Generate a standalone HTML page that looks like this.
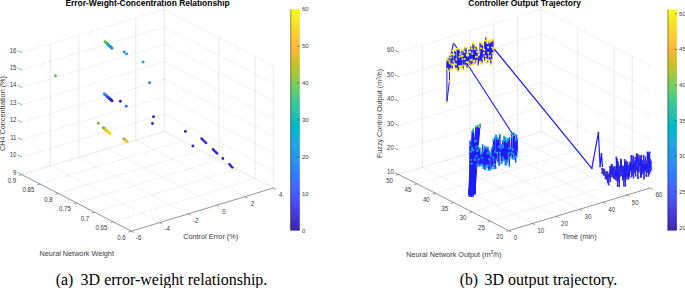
<!DOCTYPE html>
<html><head><meta charset="utf-8"><style>
html,body{margin:0;padding:0;background:#fff;width:685px;height:288px;overflow:hidden}
svg{display:block;font-family:"Liberation Sans",sans-serif}
</style></head><body>
<svg width="685" height="288" viewBox="0 0 685 288">
<rect width="685" height="288" fill="#fff"/>
<defs><linearGradient id="pg" x1="0" y1="0" x2="0" y2="1"><stop offset="0" stop-color="#f9fb15"/><stop offset="0.02" stop-color="#f7f51b"/><stop offset="0.03" stop-color="#f6ef20"/><stop offset="0.05" stop-color="#f5e924"/><stop offset="0.06" stop-color="#f5e327"/><stop offset="0.08" stop-color="#f7dc2a"/><stop offset="0.1" stop-color="#fad62d"/><stop offset="0.11" stop-color="#fccf30"/><stop offset="0.13" stop-color="#fec934"/><stop offset="0.14" stop-color="#fec338"/><stop offset="0.16" stop-color="#febe3c"/><stop offset="0.17" stop-color="#f8ba3d"/><stop offset="0.19" stop-color="#f0ba36"/><stop offset="0.21" stop-color="#e6bb2d"/><stop offset="0.22" stop-color="#dcbd29"/><stop offset="0.24" stop-color="#d1bf27"/><stop offset="0.25" stop-color="#c5c22a"/><stop offset="0.27" stop-color="#b9c431"/><stop offset="0.29" stop-color="#abc739"/><stop offset="0.3" stop-color="#9dc943"/><stop offset="0.32" stop-color="#8fcb4e"/><stop offset="0.33" stop-color="#81cc59"/><stop offset="0.35" stop-color="#72cd64"/><stop offset="0.37" stop-color="#64cd6f"/><stop offset="0.38" stop-color="#57cc7a"/><stop offset="0.4" stop-color="#4acb84"/><stop offset="0.41" stop-color="#3fca8e"/><stop offset="0.43" stop-color="#37c897"/><stop offset="0.44" stop-color="#31c69f"/><stop offset="0.46" stop-color="#2cc4a7"/><stop offset="0.48" stop-color="#24c1ae"/><stop offset="0.49" stop-color="#19bfb6"/><stop offset="0.51" stop-color="#0bbdbd"/><stop offset="0.52" stop-color="#02bac3"/><stop offset="0.54" stop-color="#01b8ca"/><stop offset="0.56" stop-color="#08b5d0"/><stop offset="0.57" stop-color="#12b1d6"/><stop offset="0.59" stop-color="#18addb"/><stop offset="0.6" stop-color="#1ca9df"/><stop offset="0.62" stop-color="#20a5e3"/><stop offset="0.63" stop-color="#23a0e5"/><stop offset="0.65" stop-color="#259be8"/><stop offset="0.67" stop-color="#2797eb"/><stop offset="0.68" stop-color="#2b91ef"/><stop offset="0.7" stop-color="#2d8cf3"/><stop offset="0.71" stop-color="#2e87f7"/><stop offset="0.73" stop-color="#2f81fa"/><stop offset="0.75" stop-color="#327cfc"/><stop offset="0.76" stop-color="#3875fe"/><stop offset="0.78" stop-color="#3e6fff"/><stop offset="0.79" stop-color="#4269fe"/><stop offset="0.81" stop-color="#4563fd"/><stop offset="0.83" stop-color="#465efb"/><stop offset="0.84" stop-color="#4758f8"/><stop offset="0.86" stop-color="#4852f4"/><stop offset="0.87" stop-color="#484df0"/><stop offset="0.89" stop-color="#4747eb"/><stop offset="0.9" stop-color="#4741e5"/><stop offset="0.92" stop-color="#463cde"/><stop offset="0.94" stop-color="#4537d5"/><stop offset="0.95" stop-color="#4332cb"/><stop offset="0.97" stop-color="#422ec0"/><stop offset="0.98" stop-color="#402ab4"/><stop offset="1" stop-color="#3e26a8"/></linearGradient></defs>
<line x1="21.8" y1="174.6" x2="131.3" y2="231.2" stroke="#dcdcdc" stroke-width="0.6" stroke-dasharray="2 1"/>
<line x1="50.3" y1="165.98" x2="159.7" y2="222.56" stroke="#dcdcdc" stroke-width="0.6" stroke-dasharray="2 1"/>
<line x1="78.8" y1="157.36" x2="188.1" y2="213.92" stroke="#dcdcdc" stroke-width="0.6" stroke-dasharray="2 1"/>
<line x1="107.3" y1="148.74" x2="216.5" y2="205.28" stroke="#dcdcdc" stroke-width="0.6" stroke-dasharray="2 1"/>
<line x1="135.8" y1="140.12" x2="244.9" y2="196.64" stroke="#dcdcdc" stroke-width="0.6" stroke-dasharray="2 1"/>
<line x1="164.3" y1="131.5" x2="273.3" y2="188" stroke="#dcdcdc" stroke-width="0.6" stroke-dasharray="2 1"/>
<line x1="21.8" y1="174.6" x2="164.3" y2="131.5" stroke="#dcdcdc" stroke-width="0.6" stroke-dasharray="2 1"/>
<line x1="40.05" y1="184.03" x2="182.47" y2="140.92" stroke="#dcdcdc" stroke-width="0.6" stroke-dasharray="2 1"/>
<line x1="58.3" y1="193.47" x2="200.63" y2="150.33" stroke="#dcdcdc" stroke-width="0.6" stroke-dasharray="2 1"/>
<line x1="76.55" y1="202.9" x2="218.8" y2="159.75" stroke="#dcdcdc" stroke-width="0.6" stroke-dasharray="2 1"/>
<line x1="94.8" y1="212.33" x2="236.97" y2="169.17" stroke="#dcdcdc" stroke-width="0.6" stroke-dasharray="2 1"/>
<line x1="113.05" y1="221.77" x2="255.13" y2="178.58" stroke="#dcdcdc" stroke-width="0.6" stroke-dasharray="2 1"/>
<line x1="131.3" y1="231.2" x2="273.3" y2="188" stroke="#dcdcdc" stroke-width="0.6" stroke-dasharray="2 1"/>
<line x1="50.3" y1="165.98" x2="50.3" y2="43.98" stroke="#e4e4e4" stroke-width="0.8"/>
<line x1="78.8" y1="157.36" x2="78.8" y2="35.36" stroke="#e4e4e4" stroke-width="0.8"/>
<line x1="135.8" y1="140.12" x2="135.8" y2="18.12" stroke="#e4e4e4" stroke-width="0.8"/>
<line x1="164.3" y1="131.5" x2="164.3" y2="9.5" stroke="#e4e4e4" stroke-width="0.8"/>
<line x1="21.8" y1="174.6" x2="164.3" y2="131.5" stroke="#dcdcdc" stroke-width="0.6" stroke-dasharray="2 1"/>
<line x1="21.8" y1="157.17" x2="164.3" y2="114.07" stroke="#dcdcdc" stroke-width="0.6" stroke-dasharray="2 1"/>
<line x1="21.8" y1="139.74" x2="164.3" y2="96.64" stroke="#dcdcdc" stroke-width="0.6" stroke-dasharray="2 1"/>
<line x1="21.8" y1="122.31" x2="164.3" y2="79.21" stroke="#dcdcdc" stroke-width="0.6" stroke-dasharray="2 1"/>
<line x1="21.8" y1="104.89" x2="164.3" y2="61.79" stroke="#dcdcdc" stroke-width="0.6" stroke-dasharray="2 1"/>
<line x1="21.8" y1="87.46" x2="164.3" y2="44.36" stroke="#dcdcdc" stroke-width="0.6" stroke-dasharray="2 1"/>
<line x1="21.8" y1="70.03" x2="164.3" y2="26.93" stroke="#dcdcdc" stroke-width="0.6" stroke-dasharray="2 1"/>
<line x1="21.8" y1="52.6" x2="164.3" y2="9.5" stroke="#dcdcdc" stroke-width="0.6" stroke-dasharray="2 1"/>
<line x1="218.8" y1="159.75" x2="218.8" y2="37.75" stroke="#e4e4e4" stroke-width="0.8"/>
<line x1="255.13" y1="178.58" x2="255.13" y2="56.58" stroke="#e4e4e4" stroke-width="0.8"/>
<line x1="273.3" y1="188" x2="273.3" y2="66" stroke="#e4e4e4" stroke-width="0.8"/>
<line x1="164.3" y1="131.5" x2="273.3" y2="188" stroke="#dcdcdc" stroke-width="0.6" stroke-dasharray="2 1"/>
<line x1="164.3" y1="114.07" x2="273.3" y2="170.57" stroke="#dcdcdc" stroke-width="0.6" stroke-dasharray="2 1"/>
<line x1="164.3" y1="96.64" x2="273.3" y2="153.14" stroke="#dcdcdc" stroke-width="0.6" stroke-dasharray="2 1"/>
<line x1="164.3" y1="79.21" x2="273.3" y2="135.71" stroke="#dcdcdc" stroke-width="0.6" stroke-dasharray="2 1"/>
<line x1="164.3" y1="61.79" x2="273.3" y2="118.29" stroke="#dcdcdc" stroke-width="0.6" stroke-dasharray="2 1"/>
<line x1="164.3" y1="44.36" x2="273.3" y2="100.86" stroke="#dcdcdc" stroke-width="0.6" stroke-dasharray="2 1"/>
<line x1="164.3" y1="26.93" x2="273.3" y2="83.43" stroke="#dcdcdc" stroke-width="0.6" stroke-dasharray="2 1"/>
<line x1="164.3" y1="9.5" x2="273.3" y2="66" stroke="#dcdcdc" stroke-width="0.6" stroke-dasharray="2 1"/>
<circle cx="104.9" cy="41.7" r="1.45" fill="#6cc04a"/>
<circle cx="105.54" cy="42.29" r="1.45" fill="#6cc04a"/>
<circle cx="106.17" cy="42.88" r="1.45" fill="#6cc04a"/>
<circle cx="106.81" cy="43.47" r="1.45" fill="#3fb98a"/>
<circle cx="107.45" cy="44.06" r="1.45" fill="#3fb98a"/>
<circle cx="108.08" cy="44.65" r="1.45" fill="#20a8b8"/>
<circle cx="108.72" cy="45.25" r="1.45" fill="#20a8b8"/>
<circle cx="109.35" cy="45.84" r="1.45" fill="#1c98d8"/>
<circle cx="109.99" cy="46.43" r="1.45" fill="#1c98d8"/>
<circle cx="110.63" cy="47.02" r="1.45" fill="#1e88e8"/>
<circle cx="111.26" cy="47.61" r="1.45" fill="#1e88e8"/>
<circle cx="111.9" cy="48.2" r="1.45" fill="#1e88e8"/>
<circle cx="124.3" cy="52" r="1.45" fill="#1aa0e0"/>
<circle cx="126.6" cy="53.9" r="1.45" fill="#1a98e0"/>
<circle cx="143.1" cy="62.1" r="1.45" fill="#14a0d8"/>
<circle cx="55.4" cy="75.8" r="1.45" fill="#6cbf40"/>
<circle cx="149.6" cy="82.8" r="1.45" fill="#1a88ea"/>
<circle cx="104.3" cy="94" r="1.45" fill="#2a8cf0"/>
<circle cx="104.9" cy="94.53" r="1.45" fill="#2a8cf0"/>
<circle cx="105.5" cy="95.06" r="1.45" fill="#2a8cf0"/>
<circle cx="106.1" cy="95.59" r="1.45" fill="#3070f2"/>
<circle cx="106.7" cy="96.12" r="1.45" fill="#3070f2"/>
<circle cx="107.3" cy="96.65" r="1.45" fill="#3070f2"/>
<circle cx="107.9" cy="97.18" r="1.45" fill="#3050f0"/>
<circle cx="108.5" cy="97.72" r="1.45" fill="#3050f0"/>
<circle cx="109.1" cy="98.25" r="1.45" fill="#3038e0"/>
<circle cx="109.7" cy="98.78" r="1.45" fill="#3038e0"/>
<circle cx="110.3" cy="99.31" r="1.45" fill="#3038e0"/>
<circle cx="110.9" cy="99.84" r="1.45" fill="#2c20a8"/>
<circle cx="111.5" cy="100.37" r="1.45" fill="#2c20a8"/>
<circle cx="112.1" cy="100.9" r="1.45" fill="#2c20a8"/>
<circle cx="120.4" cy="101.2" r="1.45" fill="#3422b0"/>
<circle cx="126.25" cy="106.3" r="1.45" fill="#2a6af5"/>
<circle cx="153.5" cy="116.8" r="1.45" fill="#3b22c2"/>
<circle cx="152.5" cy="123.5" r="1.45" fill="#3b22c2"/>
<circle cx="98.4" cy="123.3" r="1.45" fill="#6cc040"/>
<circle cx="103.2" cy="127.7" r="1.45" fill="#78c040"/>
<circle cx="103.82" cy="128.25" r="1.45" fill="#78c040"/>
<circle cx="104.44" cy="128.79" r="1.45" fill="#78c040"/>
<circle cx="105.05" cy="129.34" r="1.45" fill="#e8b030"/>
<circle cx="105.67" cy="129.88" r="1.45" fill="#e8b030"/>
<circle cx="106.29" cy="130.43" r="1.45" fill="#f0c828"/>
<circle cx="106.91" cy="130.97" r="1.45" fill="#f0c828"/>
<circle cx="107.53" cy="131.52" r="1.45" fill="#f0d020"/>
<circle cx="108.15" cy="132.06" r="1.45" fill="#f0d020"/>
<circle cx="108.76" cy="132.61" r="1.45" fill="#f2d818"/>
<circle cx="109.38" cy="133.15" r="1.45" fill="#f2d818"/>
<circle cx="110" cy="133.7" r="1.45" fill="#f2d818"/>
<circle cx="123.9" cy="138.9" r="1.45" fill="#78c040"/>
<circle cx="124.52" cy="139.48" r="1.45" fill="#78c040"/>
<circle cx="125.14" cy="140.06" r="1.45" fill="#f0b030"/>
<circle cx="125.76" cy="140.64" r="1.45" fill="#f0b030"/>
<circle cx="126.38" cy="141.22" r="1.45" fill="#f5c030"/>
<circle cx="127" cy="141.8" r="1.45" fill="#f5c030"/>
<circle cx="185.4" cy="131.4" r="1.45" fill="#3b22c2"/>
<circle cx="192.9" cy="146" r="1.45" fill="#3b22c2"/>
<circle cx="201.7" cy="138.7" r="1.35" fill="#3b22c2"/>
<circle cx="203.13" cy="140.1" r="1.35" fill="#3b22c2"/>
<circle cx="204.57" cy="141.5" r="1.35" fill="#3b22c2"/>
<circle cx="206" cy="142.9" r="1.35" fill="#3b22c2"/>
<circle cx="213" cy="149.4" r="1.35" fill="#3b22c2"/>
<circle cx="214.33" cy="150.7" r="1.35" fill="#3b22c2"/>
<circle cx="215.67" cy="152" r="1.35" fill="#3b22c2"/>
<circle cx="217" cy="153.3" r="1.35" fill="#3b22c2"/>
<circle cx="222.8" cy="158.5" r="1.45" fill="#3b22c2"/>
<circle cx="229.5" cy="164.3" r="1.35" fill="#3b22c2"/>
<circle cx="230.85" cy="165.8" r="1.35" fill="#3b22c2"/>
<circle cx="232.2" cy="167.3" r="1.35" fill="#3b22c2"/>
<line x1="21.8" y1="174.6" x2="131.3" y2="231.2" stroke="#5c5c5c" stroke-width="0.6"/>
<line x1="131.3" y1="231.2" x2="273.3" y2="188" stroke="#5c5c5c" stroke-width="0.6"/>
<line x1="21.8" y1="174.6" x2="18.93" y2="175.47" stroke="#5c5c5c" stroke-width="0.6"/>
<line x1="40.05" y1="184.03" x2="37.18" y2="184.9" stroke="#5c5c5c" stroke-width="0.6"/>
<line x1="58.3" y1="193.47" x2="55.43" y2="194.34" stroke="#5c5c5c" stroke-width="0.6"/>
<line x1="76.55" y1="202.9" x2="73.68" y2="203.77" stroke="#5c5c5c" stroke-width="0.6"/>
<line x1="94.8" y1="212.33" x2="91.93" y2="213.2" stroke="#5c5c5c" stroke-width="0.6"/>
<line x1="113.05" y1="221.77" x2="110.18" y2="222.64" stroke="#5c5c5c" stroke-width="0.6"/>
<line x1="131.3" y1="231.2" x2="128.43" y2="232.07" stroke="#5c5c5c" stroke-width="0.6"/>
<line x1="131.3" y1="231.2" x2="133.97" y2="232.58" stroke="#5c5c5c" stroke-width="0.6"/>
<line x1="159.7" y1="222.56" x2="162.37" y2="223.94" stroke="#5c5c5c" stroke-width="0.6"/>
<line x1="188.1" y1="213.92" x2="190.77" y2="215.3" stroke="#5c5c5c" stroke-width="0.6"/>
<line x1="216.5" y1="205.28" x2="219.17" y2="206.66" stroke="#5c5c5c" stroke-width="0.6"/>
<line x1="244.9" y1="196.64" x2="247.57" y2="198.02" stroke="#5c5c5c" stroke-width="0.6"/>
<line x1="273.3" y1="188" x2="275.97" y2="189.38" stroke="#5c5c5c" stroke-width="0.6"/>
<line x1="21.8" y1="174.6" x2="17.98" y2="172.63" stroke="#5c5c5c" stroke-width="0.6"/>
<line x1="21.8" y1="157.17" x2="17.98" y2="155.2" stroke="#5c5c5c" stroke-width="0.6"/>
<line x1="21.8" y1="139.74" x2="17.98" y2="137.77" stroke="#5c5c5c" stroke-width="0.6"/>
<line x1="21.8" y1="122.31" x2="17.98" y2="120.34" stroke="#5c5c5c" stroke-width="0.6"/>
<line x1="21.8" y1="104.89" x2="17.98" y2="102.91" stroke="#5c5c5c" stroke-width="0.6"/>
<line x1="21.8" y1="87.46" x2="17.98" y2="85.48" stroke="#5c5c5c" stroke-width="0.6"/>
<line x1="21.8" y1="70.03" x2="17.98" y2="68.05" stroke="#5c5c5c" stroke-width="0.6"/>
<line x1="21.8" y1="52.6" x2="17.98" y2="50.63" stroke="#5c5c5c" stroke-width="0.6"/>
<text transform="translate(16.5 174.5) scale(0.93 1)" font-size="6.6" text-anchor="end" fill="#3a3a3a">9</text>
<text transform="translate(16.5 157.07) scale(0.93 1)" font-size="6.6" text-anchor="end" fill="#3a3a3a">10</text>
<text transform="translate(16.5 139.64) scale(0.93 1)" font-size="6.6" text-anchor="end" fill="#3a3a3a">11</text>
<text transform="translate(16.5 122.21) scale(0.93 1)" font-size="6.6" text-anchor="end" fill="#3a3a3a">12</text>
<text transform="translate(16.5 104.79) scale(0.93 1)" font-size="6.6" text-anchor="end" fill="#3a3a3a">13</text>
<text transform="translate(16.5 87.36) scale(0.93 1)" font-size="6.6" text-anchor="end" fill="#3a3a3a">14</text>
<text transform="translate(16.5 69.93) scale(0.93 1)" font-size="6.6" text-anchor="end" fill="#3a3a3a">15</text>
<text transform="translate(16.5 52.5) scale(0.93 1)" font-size="6.6" text-anchor="end" fill="#3a3a3a">16</text>
<text transform="translate(16.2 183) scale(0.93 1)" font-size="6.6" text-anchor="end" fill="#3a3a3a">0.9</text>
<text transform="translate(34.45 192.43) scale(0.93 1)" font-size="6.6" text-anchor="end" fill="#3a3a3a">0.85</text>
<text transform="translate(52.7 201.87) scale(0.93 1)" font-size="6.6" text-anchor="end" fill="#3a3a3a">0.8</text>
<text transform="translate(70.95 211.3) scale(0.93 1)" font-size="6.6" text-anchor="end" fill="#3a3a3a">0.75</text>
<text transform="translate(89.2 220.73) scale(0.93 1)" font-size="6.6" text-anchor="end" fill="#3a3a3a">0.7</text>
<text transform="translate(107.45 230.17) scale(0.93 1)" font-size="6.6" text-anchor="end" fill="#3a3a3a">0.65</text>
<text transform="translate(125.7 239.6) scale(0.93 1)" font-size="6.6" text-anchor="end" fill="#3a3a3a">0.6</text>
<text transform="translate(138.8 240.1) scale(0.93 1)" font-size="6.6" text-anchor="middle" fill="#3a3a3a">-6</text>
<text transform="translate(167.2 231.46) scale(0.93 1)" font-size="6.6" text-anchor="middle" fill="#3a3a3a">-4</text>
<text transform="translate(195.6 222.82) scale(0.93 1)" font-size="6.6" text-anchor="middle" fill="#3a3a3a">-2</text>
<text transform="translate(224 214.18) scale(0.93 1)" font-size="6.6" text-anchor="middle" fill="#3a3a3a">0</text>
<text transform="translate(252.4 205.54) scale(0.93 1)" font-size="6.6" text-anchor="middle" fill="#3a3a3a">2</text>
<text transform="translate(280.8 196.9) scale(0.93 1)" font-size="6.6" text-anchor="middle" fill="#3a3a3a">4</text>
<text x="147.6" y="6.1" font-size="8.45" text-anchor="middle" fill="#000" font-weight="bold">Error-Weight-Concentration Relationship</text>
<text x="76.7" y="256.4" font-size="7.25" text-anchor="middle" fill="#3a3a3a">Neural Network Weight</text>
<text x="210.7" y="239.1" font-size="7.25" text-anchor="middle" fill="#3a3a3a">Control Error (%)</text>
<text x="5" y="113.5" font-size="7.25" text-anchor="middle" fill="#3a3a3a" transform="rotate(-90 5.0 113.5)">CH4 Concentration (%)</text>
<line x1="398.6" y1="174.5" x2="508.75" y2="230.6" stroke="#dcdcdc" stroke-width="0.6" stroke-dasharray="2 1"/>
<line x1="422.38" y1="167.37" x2="532.34" y2="223.5" stroke="#dcdcdc" stroke-width="0.6" stroke-dasharray="2 1"/>
<line x1="446.17" y1="160.23" x2="555.93" y2="216.4" stroke="#dcdcdc" stroke-width="0.6" stroke-dasharray="2 1"/>
<line x1="469.95" y1="153.1" x2="579.52" y2="209.3" stroke="#dcdcdc" stroke-width="0.6" stroke-dasharray="2 1"/>
<line x1="493.73" y1="145.97" x2="603.12" y2="202.2" stroke="#dcdcdc" stroke-width="0.6" stroke-dasharray="2 1"/>
<line x1="517.52" y1="138.83" x2="626.71" y2="195.1" stroke="#dcdcdc" stroke-width="0.6" stroke-dasharray="2 1"/>
<line x1="541.3" y1="131.7" x2="650.3" y2="188" stroke="#dcdcdc" stroke-width="0.6" stroke-dasharray="2 1"/>
<line x1="398.6" y1="174.5" x2="541.3" y2="131.7" stroke="#dcdcdc" stroke-width="0.6" stroke-dasharray="2 1"/>
<line x1="416.96" y1="183.85" x2="559.47" y2="141.08" stroke="#dcdcdc" stroke-width="0.6" stroke-dasharray="2 1"/>
<line x1="435.32" y1="193.2" x2="577.63" y2="150.47" stroke="#dcdcdc" stroke-width="0.6" stroke-dasharray="2 1"/>
<line x1="453.68" y1="202.55" x2="595.8" y2="159.85" stroke="#dcdcdc" stroke-width="0.6" stroke-dasharray="2 1"/>
<line x1="472.03" y1="211.9" x2="613.97" y2="169.23" stroke="#dcdcdc" stroke-width="0.6" stroke-dasharray="2 1"/>
<line x1="490.39" y1="221.25" x2="632.13" y2="178.62" stroke="#dcdcdc" stroke-width="0.6" stroke-dasharray="2 1"/>
<line x1="508.75" y1="230.6" x2="650.3" y2="188" stroke="#dcdcdc" stroke-width="0.6" stroke-dasharray="2 1"/>
<line x1="422.38" y1="167.37" x2="422.38" y2="45.17" stroke="#e4e4e4" stroke-width="0.8"/>
<line x1="469.95" y1="153.1" x2="469.95" y2="30.9" stroke="#e4e4e4" stroke-width="0.8"/>
<line x1="493.73" y1="145.97" x2="493.73" y2="23.77" stroke="#e4e4e4" stroke-width="0.8"/>
<line x1="517.52" y1="138.83" x2="517.52" y2="16.63" stroke="#e4e4e4" stroke-width="0.8"/>
<line x1="541.3" y1="131.7" x2="541.3" y2="9.5" stroke="#e4e4e4" stroke-width="0.8"/>
<line x1="398.6" y1="174.5" x2="541.3" y2="131.7" stroke="#dcdcdc" stroke-width="0.6" stroke-dasharray="2 1"/>
<line x1="398.6" y1="150.06" x2="541.3" y2="107.26" stroke="#dcdcdc" stroke-width="0.6" stroke-dasharray="2 1"/>
<line x1="398.6" y1="125.62" x2="541.3" y2="82.82" stroke="#dcdcdc" stroke-width="0.6" stroke-dasharray="2 1"/>
<line x1="398.6" y1="101.18" x2="541.3" y2="58.38" stroke="#dcdcdc" stroke-width="0.6" stroke-dasharray="2 1"/>
<line x1="398.6" y1="76.74" x2="541.3" y2="33.94" stroke="#dcdcdc" stroke-width="0.6" stroke-dasharray="2 1"/>
<line x1="398.6" y1="52.3" x2="541.3" y2="9.5" stroke="#dcdcdc" stroke-width="0.6" stroke-dasharray="2 1"/>
<line x1="577.63" y1="150.47" x2="577.63" y2="28.27" stroke="#e4e4e4" stroke-width="0.8"/>
<line x1="613.97" y1="169.23" x2="613.97" y2="47.03" stroke="#e4e4e4" stroke-width="0.8"/>
<line x1="632.13" y1="178.62" x2="632.13" y2="56.42" stroke="#e4e4e4" stroke-width="0.8"/>
<line x1="541.3" y1="131.7" x2="650.3" y2="188" stroke="#dcdcdc" stroke-width="0.6" stroke-dasharray="2 1"/>
<line x1="541.3" y1="107.26" x2="650.3" y2="163.56" stroke="#dcdcdc" stroke-width="0.6" stroke-dasharray="2 1"/>
<line x1="541.3" y1="82.82" x2="650.3" y2="139.12" stroke="#dcdcdc" stroke-width="0.6" stroke-dasharray="2 1"/>
<line x1="541.3" y1="58.38" x2="650.3" y2="114.68" stroke="#dcdcdc" stroke-width="0.6" stroke-dasharray="2 1"/>
<line x1="541.3" y1="33.94" x2="650.3" y2="90.24" stroke="#dcdcdc" stroke-width="0.6" stroke-dasharray="2 1"/>
<line x1="541.3" y1="9.5" x2="650.3" y2="65.8" stroke="#dcdcdc" stroke-width="0.6" stroke-dasharray="2 1"/>
<polyline fill="none" stroke="#1c1cfa" stroke-width="1.1" stroke-linejoin="round" points="450.3,58 453.5,42.7 514.5,137"/>
<polyline fill="none" stroke="#1c1cfa" stroke-width="1.2" stroke-linejoin="round" points="491,45 591.8,168.3 598.4,132.8 600.1,166.4 601.5,153.7 602.5,167"/>
<polyline fill="none" stroke="#1c1cfa" stroke-width="1.0" stroke-linejoin="round" points="446.9,62.5 446.9,102 449.4,81.25 449.6,65"/>
<polyline fill="none" stroke="#1c1cfa" stroke-width="1.0" stroke-linejoin="round" points="447,59.28 447.38,69 447.63,59.88 448.33,71.27 448.38,57.77 448.75,70.91 449.45,60.91 449.52,62.76 450,55.19 450.54,69.13 450.96,57.57 451.43,64.02 451.99,54.44 452.24,69.26 452.42,50.82 452.87,64.56 453.55,61.29 453.57,65.08 454.35,54.6 454.57,63.28 454.69,50.13 455.42,68.31 455.49,50.7 455.92,64.24 456.32,59.47 456.95,68.78 457.13,48.73 457.82,70.99 457.91,48.83 458.52,71.39 458.71,48.75 459.16,66.29 459.43,57.09 460.08,68.1 460.66,53.63 461.01,66.18 461.42,56.17 461.46,66.56 461.86,50.5 462.46,58.98 462.57,55.94 463.3,69.37 463.64,49.78 464.09,65.66 464.41,51.94 464.66,59 464.93,47.67 465.34,65.88 465.99,47.61 466.55,62.1 466.84,54.94 466.91,68.23 467.64,55.82 468,62.25 468.24,55.27 468.75,63.48 469.24,49.11 469.72,65.86 470.11,52.2 470.45,60.25 470.76,46.14 471.15,65.06 471.73,48.82 471.83,59.6 472.25,53.7 472.8,64.03 473.06,42.94 473.46,61.47 473.74,44.36 474.34,60.85 474.85,49.18 475.24,63.54 475.29,46.29 476.04,56.84 476.27,46.37 476.62,61 477.12,51.89 477.25,56.52 477.66,49.34 478.2,65.54 478.84,53.89 478.76,54.89 479.49,51.73 479.93,62.06 480.15,42.54 480.44,61.5 481.03,48.26 481.44,62.69 481.85,43.7 481.99,63.85 482.65,44.57 482.86,58.44 483.39,49.03 483.88,53.09 484.34,50.08 484.5,61.28 484.85,40.7 485.46,56.02 485.78,37.03 486.26,59.07 486.35,40.66 487.13,60.02 487.2,42.89 487.6,62.94 488.1,47.32 488.23,52.77 489.02,41.27 489.4,60.61 489.66,42.33 490.15,56.18 490.67,40.44 490.85,64.21 491.3,41.25 491.66,59.96 492.2,47.5 492.6,53.32 492.85,40.06 493.21,49.15 493.84,47.9 494,52.06"/>
<circle cx="447" cy="59.28" r="1.1" fill="#fad42e"/>
<circle cx="447.38" cy="69" r="1.1" fill="#f5e526"/>
<circle cx="447.63" cy="59.88" r="1.1" fill="#f7dc2a"/>
<circle cx="448.33" cy="71.27" r="1.1" fill="#f5e924"/>
<circle cx="448.38" cy="57.77" r="1.1" fill="#f5ea24"/>
<circle cx="448.75" cy="70.91" r="1.1" fill="#fdcb33"/>
<circle cx="449.45" cy="60.91" r="1.1" fill="#fec835"/>
<circle cx="449.52" cy="62.76" r="1.1" fill="#f7f51b"/>
<circle cx="450" cy="55.19" r="1.1" fill="#fad52d"/>
<circle cx="450.54" cy="69.13" r="1.1" fill="#fad42e"/>
<circle cx="450.96" cy="57.57" r="1.1" fill="#f9fb15"/>
<circle cx="451.43" cy="64.02" r="1.1" fill="#f5e128"/>
<circle cx="451.99" cy="54.44" r="1.1" fill="#f7f51b"/>
<circle cx="452.24" cy="69.26" r="1.1" fill="#f5e228"/>
<circle cx="452.42" cy="50.82" r="1.1" fill="#f5ea23"/>
<circle cx="452.87" cy="64.56" r="1.1" fill="#fccf30"/>
<circle cx="453.55" cy="61.29" r="1.1" fill="#f5ea23"/>
<circle cx="453.57" cy="65.08" r="1.1" fill="#f8f619"/>
<circle cx="454.35" cy="54.6" r="1.1" fill="#f5e426"/>
<circle cx="454.57" cy="63.28" r="1.1" fill="#f6f020"/>
<circle cx="454.69" cy="50.13" r="1.1" fill="#f5ec22"/>
<circle cx="455.42" cy="68.31" r="1.1" fill="#fdcb33"/>
<circle cx="455.49" cy="50.7" r="1.1" fill="#f6f11f"/>
<circle cx="455.92" cy="64.24" r="1.1" fill="#f5e825"/>
<circle cx="456.32" cy="59.47" r="1.1" fill="#f9d82c"/>
<circle cx="456.95" cy="68.78" r="1.1" fill="#fec934"/>
<circle cx="457.13" cy="48.73" r="1.1" fill="#f8f61a"/>
<circle cx="457.82" cy="70.99" r="1.1" fill="#f5e128"/>
<circle cx="457.91" cy="48.83" r="1.1" fill="#f5ef20"/>
<circle cx="458.52" cy="71.39" r="1.1" fill="#f8f719"/>
<circle cx="458.71" cy="48.75" r="1.1" fill="#f5ee21"/>
<circle cx="459.16" cy="66.29" r="1.1" fill="#f9f916"/>
<circle cx="459.43" cy="57.09" r="1.1" fill="#f7dd2a"/>
<circle cx="460.08" cy="68.1" r="1.1" fill="#f7f31d"/>
<circle cx="460.66" cy="53.63" r="1.1" fill="#f6e028"/>
<circle cx="461.01" cy="66.18" r="1.1" fill="#f9fa16"/>
<circle cx="461.42" cy="56.17" r="1.1" fill="#f8f719"/>
<circle cx="461.46" cy="66.56" r="1.1" fill="#fdcc32"/>
<circle cx="461.86" cy="50.5" r="1.1" fill="#fccf31"/>
<circle cx="462.46" cy="58.98" r="1.1" fill="#fbd32e"/>
<circle cx="462.57" cy="55.94" r="1.1" fill="#f9fb15"/>
<circle cx="463.3" cy="69.37" r="1.1" fill="#f6df29"/>
<circle cx="463.64" cy="49.78" r="1.1" fill="#f5ea24"/>
<circle cx="464.09" cy="65.66" r="1.1" fill="#f9d82c"/>
<circle cx="464.41" cy="51.94" r="1.1" fill="#f5e327"/>
<circle cx="464.66" cy="59" r="1.1" fill="#f7dd2a"/>
<circle cx="464.93" cy="47.67" r="1.1" fill="#f7db2b"/>
<circle cx="465.34" cy="65.88" r="1.1" fill="#f5e825"/>
<circle cx="465.99" cy="47.61" r="1.1" fill="#f5e825"/>
<circle cx="466.55" cy="62.1" r="1.1" fill="#f8f817"/>
<circle cx="466.84" cy="54.94" r="1.1" fill="#f5ed22"/>
<circle cx="466.91" cy="68.23" r="1.1" fill="#f9fa16"/>
<circle cx="467.64" cy="55.82" r="1.1" fill="#f7f61a"/>
<circle cx="468" cy="62.25" r="1.1" fill="#f9fb15"/>
<circle cx="468.24" cy="55.27" r="1.1" fill="#f5ec22"/>
<circle cx="468.75" cy="63.48" r="1.1" fill="#fcd030"/>
<circle cx="469.24" cy="49.11" r="1.1" fill="#f7f61a"/>
<circle cx="469.72" cy="65.86" r="1.1" fill="#f9fb15"/>
<circle cx="470.11" cy="52.2" r="1.1" fill="#f8f817"/>
<circle cx="470.45" cy="60.25" r="1.1" fill="#f5e725"/>
<circle cx="470.76" cy="46.14" r="1.1" fill="#f5ee21"/>
<circle cx="471.15" cy="65.06" r="1.1" fill="#fbd32f"/>
<circle cx="471.73" cy="48.82" r="1.1" fill="#f7f51b"/>
<circle cx="471.83" cy="59.6" r="1.1" fill="#f5e725"/>
<circle cx="472.25" cy="53.7" r="1.1" fill="#f9d72d"/>
<circle cx="472.8" cy="64.03" r="1.1" fill="#fdcb33"/>
<circle cx="473.06" cy="42.94" r="1.1" fill="#f7f61a"/>
<circle cx="473.46" cy="61.47" r="1.1" fill="#f9fb15"/>
<circle cx="473.74" cy="44.36" r="1.1" fill="#fdcc32"/>
<circle cx="474.34" cy="60.85" r="1.1" fill="#f7f31d"/>
<circle cx="474.85" cy="49.18" r="1.1" fill="#f6de29"/>
<circle cx="475.24" cy="63.54" r="1.1" fill="#fccf30"/>
<circle cx="475.29" cy="46.29" r="1.1" fill="#f9d72c"/>
<circle cx="476.04" cy="56.84" r="1.1" fill="#f6f11e"/>
<circle cx="476.27" cy="46.37" r="1.1" fill="#f8f719"/>
<circle cx="476.62" cy="61" r="1.1" fill="#feca34"/>
<circle cx="477.12" cy="51.89" r="1.1" fill="#f5e924"/>
<circle cx="477.25" cy="56.52" r="1.1" fill="#feca33"/>
<circle cx="477.66" cy="49.34" r="1.1" fill="#f5ef20"/>
<circle cx="478.2" cy="65.54" r="1.1" fill="#f8d92b"/>
<circle cx="478.84" cy="53.89" r="1.1" fill="#f8f719"/>
<circle cx="478.76" cy="54.89" r="1.1" fill="#f9fb15"/>
<circle cx="479.49" cy="51.73" r="1.1" fill="#f5e327"/>
<circle cx="479.93" cy="62.06" r="1.1" fill="#f9fb15"/>
<circle cx="480.15" cy="42.54" r="1.1" fill="#f8d82c"/>
<circle cx="480.44" cy="61.5" r="1.1" fill="#fdcb32"/>
<circle cx="481.03" cy="48.26" r="1.1" fill="#f5e825"/>
<circle cx="481.44" cy="62.69" r="1.1" fill="#fec934"/>
<circle cx="481.85" cy="43.7" r="1.1" fill="#fbd22f"/>
<circle cx="481.99" cy="63.85" r="1.1" fill="#f6de29"/>
<circle cx="482.65" cy="44.57" r="1.1" fill="#f5e924"/>
<circle cx="482.86" cy="58.44" r="1.1" fill="#fcd030"/>
<circle cx="483.39" cy="49.03" r="1.1" fill="#feca34"/>
<circle cx="483.88" cy="53.09" r="1.1" fill="#f8f619"/>
<circle cx="484.34" cy="50.08" r="1.1" fill="#f8d82c"/>
<circle cx="484.5" cy="61.28" r="1.1" fill="#f9fb15"/>
<circle cx="484.85" cy="40.7" r="1.1" fill="#f8f818"/>
<circle cx="485.46" cy="56.02" r="1.1" fill="#f7dc2a"/>
<circle cx="485.78" cy="37.03" r="1.1" fill="#f6e128"/>
<circle cx="486.26" cy="59.07" r="1.1" fill="#f5e427"/>
<circle cx="486.35" cy="40.66" r="1.1" fill="#f5eb23"/>
<circle cx="487.13" cy="60.02" r="1.1" fill="#f5e825"/>
<circle cx="487.2" cy="42.89" r="1.1" fill="#f5e626"/>
<circle cx="487.6" cy="62.94" r="1.1" fill="#f5e924"/>
<circle cx="488.1" cy="47.32" r="1.1" fill="#f9fa15"/>
<circle cx="488.23" cy="52.77" r="1.1" fill="#f5e327"/>
<circle cx="489.02" cy="41.27" r="1.1" fill="#f6df29"/>
<circle cx="489.4" cy="60.61" r="1.1" fill="#f5ef20"/>
<circle cx="489.66" cy="42.33" r="1.1" fill="#fad42e"/>
<circle cx="490.15" cy="56.18" r="1.1" fill="#f9d82c"/>
<circle cx="490.67" cy="40.44" r="1.1" fill="#f9fb15"/>
<circle cx="490.85" cy="64.21" r="1.1" fill="#f5e427"/>
<circle cx="491.3" cy="41.25" r="1.1" fill="#f5e626"/>
<circle cx="491.66" cy="59.96" r="1.1" fill="#fec835"/>
<circle cx="492.2" cy="47.5" r="1.1" fill="#f6de29"/>
<circle cx="492.6" cy="53.32" r="1.1" fill="#f5e725"/>
<circle cx="492.85" cy="40.06" r="1.1" fill="#fec834"/>
<circle cx="493.21" cy="49.15" r="1.1" fill="#f5e924"/>
<circle cx="493.84" cy="47.9" r="1.1" fill="#f5ea24"/>
<circle cx="494" cy="52.06" r="1.1" fill="#fdca33"/>
<circle cx="446.9" cy="102" r="1.0" fill="#f8da2b"/>
<circle cx="449.4" cy="81.25" r="1.0" fill="#f8da2b"/>
<circle cx="453.5" cy="42.7" r="1.0" fill="#f8da2b"/>
<polyline fill="none" stroke="#1c1cfa" stroke-width="1.0" stroke-linejoin="round" points="475.19,159.88 475.1,194.66 470.2,151.64 475.1,193.84 470.79,151.73 470.23,192.89 470.09,145.42 470.46,196.25 471.12,159.93 469.47,193.56 476.01,126.49 469.97,189.94 476.11,147.23 475.23,192.85 471.43,163.52 473.33,196.7 472.09,149.03 469.66,189.31 477.51,125.41 468.52,194.1 472.27,131.27 471.87,190.84 474.93,141.43 475.33,188.21 475.91,140.45 474.01,191.3 470.06,141.17 469.77,196.6 479.78,126.72 475.09,191.1 472.81,131.1 469.26,194.74 476.02,140.92 475.12,188.82 473.03,131.67 470.88,196.32 472.19,147.92 469.74,188.7 479.45,126.99 469.63,188.44 473.73,150.15 470.16,193.35 473.19,150.54 468.89,196.24 478.47,126.35 469.41,194.58 474.41,159.7 469.25,191.91 480.22,124.18 471.67,196.99 476.83,151.34 471.92,194.57 472.04,150.09 469.53,191.39 476.72,155.67 472,191.05 477.36,126.13 474.57,191.25 475.42,157.36 473.15,194.84 473.26,129.12 471.9,194.93 472.06,163.64 473.05,193.23"/>
<polyline fill="none" stroke="#1c1cfa" stroke-width="1.0" stroke-linejoin="round" points="477.5,150.4 478.08,165.46 478.13,145.96 478.52,159.3 479.01,148.3 479.57,165.88 479.74,148.32 480.47,164.92 480.95,153.95 481.3,165.11 481.56,152.66 481.9,158.01 482.5,145.41 482.83,165.2 482.96,151.5 483.38,168 483.83,149.45 484.3,168.02 484.62,146.99 485.09,169.31 485.79,147.34 486.18,165.94 486.52,147.91 486.6,167.28 487.37,153.2 487.75,165.41 487.8,147.64 488.49,169.86 488.83,150.47 489.3,159.41 489.42,153.58 489.86,169.79 490.43,154.04 490.77,155.75 490.95,152.61 491.51,168.7 491.8,148.72 492.58,166.12 492.81,146.09 493.21,157.55 493.39,140.17 494.14,168.26 494.6,137.9 494.76,164.76 495.09,151.76 495.59,168.22 496.09,135.33 496.29,159.73 496.76,137.64 497.07,152.84 497.81,138.76 498,162.09 498.39,138.64 499.11,164.98 499.08,146.58 499.86,152.81 499.82,134.86 500.3,156.13 500.8,148.16 501.39,163.44 501.69,145.2 502.12,161.94 502.69,141.13 502.91,157.78 503.19,147.12 503.49,159.77 504.21,137.05 504.69,160.66 504.87,140.25 505.42,164.44 505.52,138.26 506.1,164.75 506.49,141.97 506.8,162.52 507.2,140.15 507.69,160.5 508.12,139.04 508.73,153.52 508.87,148.67 509.38,165.76 509.58,138.22 510.05,157.57 510.56,148.15 511.07,156.43 511.58,134.34 511.58,152.53 511.94,137.34 512.44,158.63 512.84,149.63 513.34,154.14 513.63,133.11 514.14,158.83 514.38,135.09 515.14,157.02 515.5,140.34 515.67,161.77 516.24,135.13 516.65,156.66 517.19,138.56 517.4,151.97"/>
<circle cx="476.01" cy="126.49" r="1.0" fill="#34c79c"/>
<circle cx="477.51" cy="125.41" r="1.0" fill="#53cc7d"/>
<circle cx="479.78" cy="126.72" r="1.0" fill="#3eca8f"/>
<circle cx="479.45" cy="126.99" r="1.0" fill="#5dcc75"/>
<circle cx="478.47" cy="126.35" r="1.0" fill="#4ccb82"/>
<circle cx="480.22" cy="124.18" r="1.0" fill="#68cd6b"/>
<circle cx="477.36" cy="126.13" r="1.0" fill="#5bcc77"/>
<circle cx="473.26" cy="129.12" r="1.0" fill="#67cd6c"/>
<circle cx="475.19" cy="159.88" r="0.9" fill="#22a1e4"/>
<circle cx="470.2" cy="151.64" r="0.9" fill="#1ca9df"/>
<circle cx="470.79" cy="151.73" r="0.9" fill="#1aacdd"/>
<circle cx="470.09" cy="145.42" r="0.9" fill="#17aeda"/>
<circle cx="471.12" cy="159.93" r="0.9" fill="#22a1e4"/>
<circle cx="476.11" cy="147.23" r="0.9" fill="#16aeda"/>
<circle cx="471.43" cy="163.52" r="0.9" fill="#15afd9"/>
<circle cx="472.09" cy="149.03" r="0.9" fill="#1babde"/>
<circle cx="472.27" cy="131.27" r="0.9" fill="#11b1d6"/>
<circle cx="474.93" cy="141.43" r="0.9" fill="#12b1d6"/>
<circle cx="475.91" cy="140.45" r="0.9" fill="#1fa6e2"/>
<circle cx="470.06" cy="141.17" r="0.9" fill="#1fa6e1"/>
<circle cx="472.81" cy="131.1" r="0.9" fill="#259ce7"/>
<circle cx="476.02" cy="140.92" r="0.9" fill="#17aeda"/>
<circle cx="473.03" cy="131.67" r="0.9" fill="#13b1d7"/>
<circle cx="472.19" cy="147.92" r="0.9" fill="#20a5e2"/>
<circle cx="473.73" cy="150.15" r="0.9" fill="#1babde"/>
<circle cx="473.19" cy="150.54" r="0.9" fill="#1aabdd"/>
<circle cx="474.41" cy="159.7" r="0.9" fill="#1aacdd"/>
<circle cx="476.83" cy="151.34" r="0.9" fill="#259ce7"/>
<circle cx="472.04" cy="150.09" r="0.9" fill="#19addc"/>
<circle cx="476.72" cy="155.67" r="0.9" fill="#1da8e0"/>
<circle cx="475.42" cy="157.36" r="0.9" fill="#1caadf"/>
<circle cx="472.06" cy="163.64" r="0.9" fill="#21a3e3"/>
<circle cx="477.5" cy="150.4" r="1.15" fill="#21a4e3"/>
<circle cx="478.08" cy="165.46" r="1.15" fill="#1caadf"/>
<circle cx="478.13" cy="145.96" r="1.15" fill="#20a4e3"/>
<circle cx="478.52" cy="159.3" r="1.15" fill="#1da8e0"/>
<circle cx="479.01" cy="148.3" r="1.15" fill="#2d89f5"/>
<circle cx="479.57" cy="165.88" r="1.15" fill="#2c8ff0"/>
<circle cx="479.74" cy="148.32" r="1.15" fill="#259ce7"/>
<circle cx="480.47" cy="164.92" r="1.15" fill="#20a5e2"/>
<circle cx="480.95" cy="153.95" r="1.15" fill="#2b92ee"/>
<circle cx="481.3" cy="165.11" r="1.15" fill="#1fa6e1"/>
<circle cx="481.56" cy="152.66" r="1.15" fill="#20a4e3"/>
<circle cx="481.9" cy="158.01" r="1.15" fill="#2d89f5"/>
<circle cx="482.5" cy="145.41" r="1.15" fill="#249de6"/>
<circle cx="482.83" cy="165.2" r="1.15" fill="#2a92ee"/>
<circle cx="482.96" cy="151.5" r="1.15" fill="#2d8af4"/>
<circle cx="483.38" cy="168" r="1.15" fill="#2c8ef1"/>
<circle cx="483.83" cy="149.45" r="1.15" fill="#2796eb"/>
<circle cx="484.3" cy="168.02" r="1.15" fill="#2c90f0"/>
<circle cx="484.62" cy="146.99" r="1.15" fill="#2b91ef"/>
<circle cx="485.09" cy="169.31" r="1.15" fill="#2d89f5"/>
<circle cx="485.79" cy="147.34" r="1.15" fill="#259de7"/>
<circle cx="486.18" cy="165.94" r="1.15" fill="#2699e9"/>
<circle cx="486.52" cy="147.91" r="1.15" fill="#21a3e3"/>
<circle cx="486.6" cy="167.28" r="1.15" fill="#22a2e4"/>
<circle cx="487.37" cy="153.2" r="1.15" fill="#2a93ee"/>
<circle cx="487.75" cy="165.41" r="1.15" fill="#16afd9"/>
<circle cx="487.8" cy="147.64" r="1.15" fill="#2d87f7"/>
<circle cx="488.49" cy="169.86" r="1.15" fill="#269ae8"/>
<circle cx="488.83" cy="150.47" r="1.15" fill="#2995ec"/>
<circle cx="489.3" cy="159.41" r="1.15" fill="#269be8"/>
<circle cx="489.42" cy="153.58" r="1.15" fill="#2d8df2"/>
<circle cx="489.86" cy="169.79" r="1.15" fill="#1aacdd"/>
<circle cx="490.43" cy="154.04" r="1.15" fill="#2699e9"/>
<circle cx="490.77" cy="155.75" r="1.15" fill="#2d89f5"/>
<circle cx="490.95" cy="152.61" r="1.15" fill="#21a3e3"/>
<circle cx="491.51" cy="168.7" r="1.15" fill="#2d8cf3"/>
<circle cx="491.8" cy="148.72" r="1.15" fill="#23a0e5"/>
<circle cx="492.58" cy="166.12" r="1.15" fill="#2797ea"/>
<circle cx="492.81" cy="146.09" r="1.15" fill="#22a2e4"/>
<circle cx="493.21" cy="157.55" r="1.15" fill="#13b1d7"/>
<circle cx="493.39" cy="140.17" r="1.15" fill="#1aacdd"/>
<circle cx="494.14" cy="168.26" r="1.15" fill="#259be8"/>
<circle cx="494.6" cy="137.9" r="1.15" fill="#1aabdd"/>
<circle cx="494.76" cy="164.76" r="1.15" fill="#20a5e3"/>
<circle cx="495.09" cy="151.76" r="1.15" fill="#2699e9"/>
<circle cx="495.59" cy="168.22" r="1.15" fill="#2c8ef1"/>
<circle cx="496.09" cy="135.33" r="1.15" fill="#21a3e4"/>
<circle cx="496.29" cy="159.73" r="1.15" fill="#22a1e4"/>
<circle cx="496.76" cy="137.64" r="1.15" fill="#13b1d7"/>
<circle cx="497.07" cy="152.84" r="1.15" fill="#12b1d6"/>
<circle cx="497.81" cy="138.76" r="1.15" fill="#21a3e3"/>
<circle cx="498" cy="162.09" r="1.15" fill="#2798ea"/>
<circle cx="498.39" cy="138.64" r="1.15" fill="#17aeda"/>
<circle cx="499.11" cy="164.98" r="1.15" fill="#2d87f6"/>
<circle cx="499.08" cy="146.58" r="1.15" fill="#2d8df2"/>
<circle cx="499.86" cy="152.81" r="1.15" fill="#22a1e4"/>
<circle cx="499.82" cy="134.86" r="1.15" fill="#21a3e3"/>
<circle cx="500.3" cy="156.13" r="1.15" fill="#2c8ef1"/>
<circle cx="500.8" cy="148.16" r="1.15" fill="#20a4e3"/>
<circle cx="501.39" cy="163.44" r="1.15" fill="#17aeda"/>
<circle cx="501.69" cy="145.2" r="1.15" fill="#2699e9"/>
<circle cx="502.12" cy="161.94" r="1.15" fill="#259be7"/>
<circle cx="502.69" cy="141.13" r="1.15" fill="#2a92ee"/>
<circle cx="502.91" cy="157.78" r="1.15" fill="#2895ec"/>
<circle cx="503.19" cy="147.12" r="1.15" fill="#12b1d6"/>
<circle cx="503.49" cy="159.77" r="1.15" fill="#2699e9"/>
<circle cx="504.21" cy="137.05" r="1.15" fill="#12b1d7"/>
<circle cx="504.69" cy="160.66" r="1.15" fill="#15afd9"/>
<circle cx="504.87" cy="140.25" r="1.15" fill="#21a3e4"/>
<circle cx="505.42" cy="164.44" r="1.15" fill="#2994ed"/>
<circle cx="505.52" cy="138.26" r="1.15" fill="#11b1d6"/>
<circle cx="506.1" cy="164.75" r="1.15" fill="#249ee6"/>
<circle cx="506.49" cy="141.97" r="1.15" fill="#259be8"/>
<circle cx="506.8" cy="162.52" r="1.15" fill="#2797eb"/>
<circle cx="507.2" cy="140.15" r="1.15" fill="#11b1d6"/>
<circle cx="507.69" cy="160.5" r="1.15" fill="#249ee6"/>
<circle cx="508.12" cy="139.04" r="1.15" fill="#2895ec"/>
<circle cx="508.73" cy="153.52" r="1.15" fill="#249de6"/>
<circle cx="508.87" cy="148.67" r="1.15" fill="#2d8df2"/>
<circle cx="509.38" cy="165.76" r="1.15" fill="#21a4e3"/>
<circle cx="509.58" cy="138.22" r="1.15" fill="#259ce7"/>
<circle cx="510.05" cy="157.57" r="1.15" fill="#2895ec"/>
<circle cx="510.56" cy="148.15" r="1.15" fill="#1baade"/>
<circle cx="511.07" cy="156.43" r="1.15" fill="#1aacdd"/>
<circle cx="511.58" cy="134.34" r="1.15" fill="#2d88f6"/>
<circle cx="511.58" cy="152.53" r="1.15" fill="#23a0e5"/>
<circle cx="511.94" cy="137.34" r="1.15" fill="#2994ed"/>
<circle cx="512.44" cy="158.63" r="1.15" fill="#14b0d8"/>
<circle cx="512.84" cy="149.63" r="1.15" fill="#1baade"/>
<circle cx="513.34" cy="154.14" r="1.15" fill="#2a93ed"/>
<circle cx="513.63" cy="133.11" r="1.15" fill="#2994ed"/>
<circle cx="514.14" cy="158.83" r="1.15" fill="#2c8ff1"/>
<circle cx="514.38" cy="135.09" r="1.15" fill="#10b2d5"/>
<circle cx="515.14" cy="157.02" r="1.15" fill="#2895ec"/>
<circle cx="515.5" cy="140.34" r="1.15" fill="#21a3e3"/>
<circle cx="515.67" cy="161.77" r="1.15" fill="#249de6"/>
<circle cx="516.24" cy="135.13" r="1.15" fill="#20a5e3"/>
<circle cx="516.65" cy="156.66" r="1.15" fill="#21a3e3"/>
<circle cx="517.19" cy="138.56" r="1.15" fill="#1da9e0"/>
<circle cx="517.4" cy="151.97" r="1.15" fill="#2d8df2"/>
<polyline fill="none" stroke="#1c1cfa" stroke-width="1.0" stroke-linejoin="round" points="602.01,168.53 602.19,172.97 602.66,169.09 602.82,172.32 603.17,169.71 603.68,175.03 603.53,169.91 603.86,174.01 604.56,169.49 604.81,174.13 604.7,171.91 605.45,178.06 605.65,173.95 605.72,178.2 606,173.24 606.5,174.9 606.69,172.29 606.88,179.31 607.09,172.05 607.56,182.5 608.03,174.44 608.32,177.84 608.16,174.17 608.68,184.54 609.1,174.7 609.52,174.81 609.6,171.91 609.98,178.08 610.1,166.7 610.27,181.17 610.9,168.83 611.23,174.22 611.53,164.68 611.78,176.28 611.69,165.36 612.06,175.37 612.31,165.21 612.77,176.46 613.09,171.25 613.59,175.65 613.55,167.36 613.7,177.78 614.19,172.58 614.56,178.16 614.87,166.91 615.23,176.68 615.44,169.52 615.53,179.49 616.11,169.23 616.27,177.6 616.31,157.56 617.01,180.48 616.99,159.08 617.53,185.85 617.92,162.03 617.81,181.29 618.07,164.45 618.46,181.37 619.03,171.64 619.2,186.31 619.35,166.4 619.92,176.45 619.8,168.48 620.47,172.35 620.75,159.39 620.84,174.56 621.21,160.85 621.38,175.21 621.65,169.43 622.33,173.21 622.28,165.84 622.61,179.61 622.79,169.62 623.27,179.61 623.73,166.78 623.89,185.79 624.26,167.51 624.55,178.65 624.6,159.6 624.84,180.5 625.29,161.69 625.52,185.8 625.66,162.87 626.07,176.99 626.36,161.52 626.75,178.44 627.2,164.17 627.46,171.39 627.48,162.75 627.88,176.77 628.15,167.73 628.4,178.7 628.56,165.64 629.04,176.37 629.56,163.47 629.51,176.58 630.14,166.59 630.31,171.29 630.38,162.52 631.04,170.85 631.19,155.94 631.54,176.44 631.69,161.99 631.86,174.19 632.46,163.03 632.52,170.48 633.09,158.81 633.14,175.3 633.21,156.26 633.53,177.44 633.9,163.02 634.2,172.45 634.37,161.56 635.11,168.08 635.25,157.69 635.61,175.79 635.76,159.1 636.06,165.53 636.51,153.98 636.47,170.41 637.16,154.72 637.03,166.05 637.37,164.6 638,178.23 637.9,155.25 638.3,167.72 638.6,158.38 638.72,171.97 639.28,162.78 639.69,166.71 639.92,156 640.25,170.47 640.56,158.19 640.49,176.84 641.05,157.65 641.26,176.97 641.53,155.71 641.84,167.55 642.04,162.14 642.28,172.44 642.92,160.89 643.19,173.87 643.19,163.04 643.6,170.54 643.77,155.89 643.99,178.69 644.67,163.33 644.83,163.75 645.15,160.08 645.42,169.99 645.5,157.37 646.04,171.36 646.29,161.96 646.3,175.95 646.94,162.82 646.88,169.39 647.36,152.34 647.81,171.92 647.91,153.33 648.39,175.88 648.55,153.61 648.87,164.58 649.27,152.36 649.46,173.83 649.63,152.53 649.89,169.14 650.1,159.79 650.47,171.56 650.95,161.33 651.2,169.42"/>
<circle cx="602.01" cy="168.53" r="0.95" fill="#4433cd"/>
<circle cx="602.19" cy="172.97" r="0.95" fill="#4331c8"/>
<circle cx="602.66" cy="169.09" r="0.95" fill="#412cba"/>
<circle cx="602.82" cy="172.32" r="0.95" fill="#463de0"/>
<circle cx="603.17" cy="169.71" r="0.95" fill="#402ab3"/>
<circle cx="603.68" cy="175.03" r="0.95" fill="#4434cf"/>
<circle cx="603.53" cy="169.91" r="0.95" fill="#463ee1"/>
<circle cx="603.86" cy="174.01" r="0.95" fill="#402bb7"/>
<circle cx="604.56" cy="169.49" r="0.95" fill="#4435d1"/>
<circle cx="604.81" cy="174.13" r="0.95" fill="#4537d5"/>
<circle cx="604.7" cy="171.91" r="0.95" fill="#402ab5"/>
<circle cx="605.45" cy="178.06" r="0.95" fill="#4331c8"/>
<circle cx="605.65" cy="173.95" r="0.95" fill="#4539d9"/>
<circle cx="605.72" cy="178.2" r="0.95" fill="#4433cc"/>
<circle cx="606" cy="173.24" r="0.95" fill="#4639da"/>
<circle cx="606.5" cy="174.9" r="0.95" fill="#412dbb"/>
<circle cx="606.69" cy="172.29" r="0.95" fill="#422ec0"/>
<circle cx="606.88" cy="179.31" r="0.95" fill="#412cb9"/>
<circle cx="607.09" cy="172.05" r="0.95" fill="#4434cf"/>
<circle cx="607.56" cy="182.5" r="0.95" fill="#473fe2"/>
<circle cx="608.03" cy="174.44" r="0.95" fill="#4536d3"/>
<circle cx="608.32" cy="177.84" r="0.95" fill="#463adc"/>
<circle cx="608.16" cy="174.17" r="0.95" fill="#4331c8"/>
<circle cx="608.68" cy="184.54" r="0.95" fill="#463adb"/>
<circle cx="609.1" cy="174.7" r="0.95" fill="#402bb8"/>
<circle cx="609.52" cy="174.81" r="0.95" fill="#4230c3"/>
<circle cx="609.6" cy="171.91" r="0.95" fill="#4538d7"/>
<circle cx="609.98" cy="178.08" r="0.95" fill="#4639da"/>
<circle cx="610.1" cy="166.7" r="0.95" fill="#4332ca"/>
<circle cx="610.27" cy="181.17" r="0.95" fill="#402bb7"/>
<circle cx="610.9" cy="168.83" r="0.95" fill="#422fc1"/>
<circle cx="611.23" cy="174.22" r="0.95" fill="#422ebe"/>
<circle cx="611.53" cy="164.68" r="0.95" fill="#422fc2"/>
<circle cx="611.78" cy="176.28" r="0.95" fill="#463bdd"/>
<circle cx="611.69" cy="165.36" r="0.95" fill="#412ebe"/>
<circle cx="612.06" cy="175.37" r="0.95" fill="#463de0"/>
<circle cx="612.31" cy="165.21" r="0.95" fill="#463de0"/>
<circle cx="612.77" cy="176.46" r="0.95" fill="#402ab5"/>
<circle cx="613.09" cy="171.25" r="0.95" fill="#4331c8"/>
<circle cx="613.59" cy="175.65" r="0.95" fill="#4434ce"/>
<circle cx="613.55" cy="167.36" r="0.95" fill="#402ab4"/>
<circle cx="613.7" cy="177.78" r="0.95" fill="#4332ca"/>
<circle cx="614.19" cy="172.58" r="0.95" fill="#463ee1"/>
<circle cx="614.56" cy="178.16" r="0.95" fill="#412cb9"/>
<circle cx="614.87" cy="166.91" r="0.95" fill="#4536d4"/>
<circle cx="615.23" cy="176.68" r="0.95" fill="#412cb9"/>
<circle cx="615.44" cy="169.52" r="0.95" fill="#4536d3"/>
<circle cx="615.53" cy="179.49" r="0.95" fill="#463ee1"/>
<circle cx="616.11" cy="169.23" r="0.95" fill="#412ebe"/>
<circle cx="616.27" cy="177.6" r="0.95" fill="#402ab3"/>
<circle cx="616.31" cy="157.56" r="0.95" fill="#402bb7"/>
<circle cx="617.01" cy="180.48" r="0.95" fill="#4435d1"/>
<circle cx="616.99" cy="159.08" r="0.95" fill="#402ab3"/>
<circle cx="617.53" cy="185.85" r="0.95" fill="#402bb7"/>
<circle cx="617.92" cy="162.03" r="0.95" fill="#4434ce"/>
<circle cx="617.81" cy="181.29" r="0.95" fill="#473ee2"/>
<circle cx="618.07" cy="164.45" r="0.95" fill="#4332ca"/>
<circle cx="618.46" cy="181.37" r="0.95" fill="#4332c9"/>
<circle cx="619.03" cy="171.64" r="0.95" fill="#4537d6"/>
<circle cx="619.2" cy="186.31" r="0.95" fill="#402bb8"/>
<circle cx="619.35" cy="166.4" r="0.95" fill="#4536d3"/>
<circle cx="619.92" cy="176.45" r="0.95" fill="#412dbc"/>
<circle cx="619.8" cy="168.48" r="0.95" fill="#4536d4"/>
<circle cx="620.47" cy="172.35" r="0.95" fill="#473fe3"/>
<circle cx="620.75" cy="159.39" r="0.95" fill="#402ab5"/>
<circle cx="620.84" cy="174.56" r="0.95" fill="#4435d1"/>
<circle cx="621.21" cy="160.85" r="0.95" fill="#4536d4"/>
<circle cx="621.38" cy="175.21" r="0.95" fill="#412dbb"/>
<circle cx="621.65" cy="169.43" r="0.95" fill="#422fc2"/>
<circle cx="622.33" cy="173.21" r="0.95" fill="#4741e4"/>
<circle cx="622.28" cy="165.84" r="0.95" fill="#4741e4"/>
<circle cx="622.61" cy="179.61" r="0.95" fill="#412cb9"/>
<circle cx="622.79" cy="169.62" r="0.95" fill="#4539d9"/>
<circle cx="623.27" cy="179.61" r="0.95" fill="#473fe3"/>
<circle cx="623.73" cy="166.78" r="0.95" fill="#422ec0"/>
<circle cx="623.89" cy="185.79" r="0.95" fill="#4536d4"/>
<circle cx="624.26" cy="167.51" r="0.95" fill="#402ab5"/>
<circle cx="624.55" cy="178.65" r="0.95" fill="#4331c7"/>
<circle cx="624.6" cy="159.6" r="0.95" fill="#4538d7"/>
<circle cx="624.84" cy="180.5" r="0.95" fill="#4536d3"/>
<circle cx="625.29" cy="161.69" r="0.95" fill="#463adc"/>
<circle cx="625.52" cy="185.8" r="0.95" fill="#402bb7"/>
<circle cx="625.66" cy="162.87" r="0.95" fill="#4331c6"/>
<circle cx="626.07" cy="176.99" r="0.95" fill="#463de0"/>
<circle cx="626.36" cy="161.52" r="0.95" fill="#4536d3"/>
<circle cx="626.75" cy="178.44" r="0.95" fill="#4433cc"/>
<circle cx="627.2" cy="164.17" r="0.95" fill="#4332c9"/>
<circle cx="627.46" cy="171.39" r="0.95" fill="#4740e4"/>
<circle cx="627.48" cy="162.75" r="0.95" fill="#4536d2"/>
<circle cx="627.88" cy="176.77" r="0.95" fill="#402ab3"/>
<circle cx="628.15" cy="167.73" r="0.95" fill="#463bdd"/>
<circle cx="628.4" cy="178.7" r="0.95" fill="#4330c5"/>
<circle cx="628.56" cy="165.64" r="0.95" fill="#4433cb"/>
<circle cx="629.04" cy="176.37" r="0.95" fill="#422ebe"/>
<circle cx="629.56" cy="163.47" r="0.95" fill="#4433cb"/>
<circle cx="629.51" cy="176.58" r="0.95" fill="#4330c5"/>
<circle cx="630.14" cy="166.59" r="0.95" fill="#402bb7"/>
<circle cx="630.31" cy="171.29" r="0.95" fill="#4537d5"/>
<circle cx="630.38" cy="162.52" r="0.95" fill="#402cb8"/>
<circle cx="631.04" cy="170.85" r="0.95" fill="#463bdc"/>
<circle cx="631.19" cy="155.94" r="0.95" fill="#402ab4"/>
<circle cx="631.54" cy="176.44" r="0.95" fill="#463bdc"/>
<circle cx="631.69" cy="161.99" r="0.95" fill="#463bdd"/>
<circle cx="631.86" cy="174.19" r="0.95" fill="#4434ce"/>
<circle cx="632.46" cy="163.03" r="0.95" fill="#4539d9"/>
<circle cx="632.52" cy="170.48" r="0.95" fill="#422fc0"/>
<circle cx="633.09" cy="158.81" r="0.95" fill="#463ada"/>
<circle cx="633.14" cy="175.3" r="0.95" fill="#4332ca"/>
<circle cx="633.21" cy="156.26" r="0.95" fill="#422ebf"/>
<circle cx="633.53" cy="177.44" r="0.95" fill="#4740e3"/>
<circle cx="633.9" cy="163.02" r="0.95" fill="#4332c9"/>
<circle cx="634.2" cy="172.45" r="0.95" fill="#4331c7"/>
<circle cx="634.37" cy="161.56" r="0.95" fill="#463ddf"/>
<circle cx="635.11" cy="168.08" r="0.95" fill="#4331c7"/>
<circle cx="635.25" cy="157.69" r="0.95" fill="#4538d7"/>
<circle cx="635.61" cy="175.79" r="0.95" fill="#412dbc"/>
<circle cx="635.76" cy="159.1" r="0.95" fill="#463cdf"/>
<circle cx="636.06" cy="165.53" r="0.95" fill="#422fc1"/>
<circle cx="636.51" cy="153.98" r="0.95" fill="#402ab5"/>
<circle cx="636.47" cy="170.41" r="0.95" fill="#4740e4"/>
<circle cx="637.16" cy="154.72" r="0.95" fill="#412dbc"/>
<circle cx="637.03" cy="166.05" r="0.95" fill="#473fe3"/>
<circle cx="637.37" cy="164.6" r="0.95" fill="#4740e4"/>
<circle cx="638" cy="178.23" r="0.95" fill="#4536d4"/>
<circle cx="637.9" cy="155.25" r="0.95" fill="#402ab3"/>
<circle cx="638.3" cy="167.72" r="0.95" fill="#402bb6"/>
<circle cx="638.6" cy="158.38" r="0.95" fill="#412ebe"/>
<circle cx="638.72" cy="171.97" r="0.95" fill="#4332c8"/>
<circle cx="639.28" cy="162.78" r="0.95" fill="#4536d4"/>
<circle cx="639.69" cy="166.71" r="0.95" fill="#4740e3"/>
<circle cx="639.92" cy="156" r="0.95" fill="#4331c6"/>
<circle cx="640.25" cy="170.47" r="0.95" fill="#412cba"/>
<circle cx="640.56" cy="158.19" r="0.95" fill="#4535d2"/>
<circle cx="640.49" cy="176.84" r="0.95" fill="#412cba"/>
<circle cx="641.05" cy="157.65" r="0.95" fill="#402bb7"/>
<circle cx="641.26" cy="176.97" r="0.95" fill="#4435d1"/>
<circle cx="641.53" cy="155.71" r="0.95" fill="#4538d8"/>
<circle cx="641.84" cy="167.55" r="0.95" fill="#402bb6"/>
<circle cx="642.04" cy="162.14" r="0.95" fill="#4433cc"/>
<circle cx="642.28" cy="172.44" r="0.95" fill="#4539d9"/>
<circle cx="642.92" cy="160.89" r="0.95" fill="#463adb"/>
<circle cx="643.19" cy="173.87" r="0.95" fill="#4331c8"/>
<circle cx="643.19" cy="163.04" r="0.95" fill="#463de0"/>
<circle cx="643.6" cy="170.54" r="0.95" fill="#412dbc"/>
<circle cx="643.77" cy="155.89" r="0.95" fill="#4639d9"/>
<circle cx="643.99" cy="178.69" r="0.95" fill="#463adc"/>
<circle cx="644.67" cy="163.33" r="0.95" fill="#463de0"/>
<circle cx="644.83" cy="163.75" r="0.95" fill="#4434ce"/>
<circle cx="645.15" cy="160.08" r="0.95" fill="#402bb8"/>
<circle cx="645.42" cy="169.99" r="0.95" fill="#402ab5"/>
<circle cx="645.5" cy="157.37" r="0.95" fill="#4435d0"/>
<circle cx="646.04" cy="171.36" r="0.95" fill="#412dbc"/>
<circle cx="646.29" cy="161.96" r="0.95" fill="#4537d5"/>
<circle cx="646.3" cy="175.95" r="0.95" fill="#402bb7"/>
<circle cx="646.94" cy="162.82" r="0.95" fill="#463bdc"/>
<circle cx="646.88" cy="169.39" r="0.95" fill="#422ebf"/>
<circle cx="647.36" cy="152.34" r="0.95" fill="#402ab3"/>
<circle cx="647.81" cy="171.92" r="0.95" fill="#412dbc"/>
<circle cx="647.91" cy="153.33" r="0.95" fill="#4433cc"/>
<circle cx="648.39" cy="175.88" r="0.95" fill="#4435d2"/>
<circle cx="648.55" cy="153.61" r="0.95" fill="#4332c8"/>
<circle cx="648.87" cy="164.58" r="0.95" fill="#412dbc"/>
<circle cx="649.27" cy="152.36" r="0.95" fill="#4434ce"/>
<circle cx="649.46" cy="173.83" r="0.95" fill="#473fe3"/>
<circle cx="649.63" cy="152.53" r="0.95" fill="#4435d0"/>
<circle cx="649.89" cy="169.14" r="0.95" fill="#473fe2"/>
<circle cx="650.1" cy="159.79" r="0.95" fill="#402ab4"/>
<circle cx="650.47" cy="171.56" r="0.95" fill="#4740e4"/>
<circle cx="650.95" cy="161.33" r="0.95" fill="#463ee0"/>
<circle cx="651.2" cy="169.42" r="0.95" fill="#4435d1"/>
<circle cx="598.4" cy="132.8" r="0.95" fill="#4332c9"/>
<circle cx="600.1" cy="166.4" r="0.95" fill="#4332c9"/>
<circle cx="601.5" cy="153.7" r="0.95" fill="#4332c9"/>
<circle cx="591.8" cy="168.3" r="0.95" fill="#4332c9"/>
<line x1="398.6" y1="174.5" x2="508.75" y2="230.6" stroke="#5c5c5c" stroke-width="0.6"/>
<line x1="508.75" y1="230.6" x2="650.3" y2="188" stroke="#5c5c5c" stroke-width="0.6"/>
<line x1="398.6" y1="174.5" x2="395.73" y2="175.36" stroke="#5c5c5c" stroke-width="0.6"/>
<line x1="416.96" y1="183.85" x2="414.08" y2="184.71" stroke="#5c5c5c" stroke-width="0.6"/>
<line x1="435.32" y1="193.2" x2="432.44" y2="194.06" stroke="#5c5c5c" stroke-width="0.6"/>
<line x1="453.68" y1="202.55" x2="450.8" y2="203.41" stroke="#5c5c5c" stroke-width="0.6"/>
<line x1="472.03" y1="211.9" x2="469.16" y2="212.76" stroke="#5c5c5c" stroke-width="0.6"/>
<line x1="490.39" y1="221.25" x2="487.52" y2="222.11" stroke="#5c5c5c" stroke-width="0.6"/>
<line x1="508.75" y1="230.6" x2="505.88" y2="231.46" stroke="#5c5c5c" stroke-width="0.6"/>
<line x1="508.75" y1="230.6" x2="511.42" y2="231.96" stroke="#5c5c5c" stroke-width="0.6"/>
<line x1="532.34" y1="223.5" x2="535.01" y2="224.86" stroke="#5c5c5c" stroke-width="0.6"/>
<line x1="555.93" y1="216.4" x2="558.61" y2="217.76" stroke="#5c5c5c" stroke-width="0.6"/>
<line x1="579.52" y1="209.3" x2="582.2" y2="210.66" stroke="#5c5c5c" stroke-width="0.6"/>
<line x1="603.12" y1="202.2" x2="605.79" y2="203.56" stroke="#5c5c5c" stroke-width="0.6"/>
<line x1="626.71" y1="195.1" x2="629.38" y2="196.46" stroke="#5c5c5c" stroke-width="0.6"/>
<line x1="650.3" y1="188" x2="652.97" y2="189.36" stroke="#5c5c5c" stroke-width="0.6"/>
<line x1="398.6" y1="174.5" x2="394.77" y2="172.55" stroke="#5c5c5c" stroke-width="0.6"/>
<line x1="398.6" y1="150.06" x2="394.77" y2="148.11" stroke="#5c5c5c" stroke-width="0.6"/>
<line x1="398.6" y1="125.62" x2="394.77" y2="123.67" stroke="#5c5c5c" stroke-width="0.6"/>
<line x1="398.6" y1="101.18" x2="394.77" y2="99.23" stroke="#5c5c5c" stroke-width="0.6"/>
<line x1="398.6" y1="76.74" x2="394.77" y2="74.79" stroke="#5c5c5c" stroke-width="0.6"/>
<line x1="398.6" y1="52.3" x2="394.77" y2="50.35" stroke="#5c5c5c" stroke-width="0.6"/>
<text transform="translate(393.9 174.4) scale(0.93 1)" font-size="6.6" text-anchor="end" fill="#3a3a3a">10</text>
<text transform="translate(393.9 149.96) scale(0.93 1)" font-size="6.6" text-anchor="end" fill="#3a3a3a">20</text>
<text transform="translate(393.9 125.52) scale(0.93 1)" font-size="6.6" text-anchor="end" fill="#3a3a3a">30</text>
<text transform="translate(393.9 101.08) scale(0.93 1)" font-size="6.6" text-anchor="end" fill="#3a3a3a">40</text>
<text transform="translate(393.9 76.64) scale(0.93 1)" font-size="6.6" text-anchor="end" fill="#3a3a3a">50</text>
<text transform="translate(393.9 52.2) scale(0.93 1)" font-size="6.6" text-anchor="end" fill="#3a3a3a">60</text>
<text transform="translate(393 182.9) scale(0.93 1)" font-size="6.6" text-anchor="end" fill="#3a3a3a">50</text>
<text transform="translate(411.36 192.25) scale(0.93 1)" font-size="6.6" text-anchor="end" fill="#3a3a3a">45</text>
<text transform="translate(429.72 201.6) scale(0.93 1)" font-size="6.6" text-anchor="end" fill="#3a3a3a">40</text>
<text transform="translate(448.07 210.95) scale(0.93 1)" font-size="6.6" text-anchor="end" fill="#3a3a3a">35</text>
<text transform="translate(466.43 220.3) scale(0.93 1)" font-size="6.6" text-anchor="end" fill="#3a3a3a">30</text>
<text transform="translate(484.79 229.65) scale(0.93 1)" font-size="6.6" text-anchor="end" fill="#3a3a3a">25</text>
<text transform="translate(503.15 239) scale(0.93 1)" font-size="6.6" text-anchor="end" fill="#3a3a3a">20</text>
<text transform="translate(513.85 240) scale(0.93 1)" font-size="6.6" text-anchor="start" fill="#3a3a3a">0</text>
<text transform="translate(537.44 232.9) scale(0.93 1)" font-size="6.6" text-anchor="start" fill="#3a3a3a">10</text>
<text transform="translate(561.03 225.8) scale(0.93 1)" font-size="6.6" text-anchor="start" fill="#3a3a3a">20</text>
<text transform="translate(584.62 218.7) scale(0.93 1)" font-size="6.6" text-anchor="start" fill="#3a3a3a">30</text>
<text transform="translate(608.22 211.6) scale(0.93 1)" font-size="6.6" text-anchor="start" fill="#3a3a3a">40</text>
<text transform="translate(631.81 204.5) scale(0.93 1)" font-size="6.6" text-anchor="start" fill="#3a3a3a">50</text>
<text transform="translate(655.4 197.4) scale(0.93 1)" font-size="6.6" text-anchor="start" fill="#3a3a3a">60</text>
<text x="524.6" y="6" font-size="8.42" text-anchor="middle" fill="#000" font-weight="bold">Controller Output Trajectory</text>
<text x="453.9" y="256.5" font-size="7.25" text-anchor="middle" fill="#3a3a3a">Neural Network Output (m<tspan font-size="4.5" dy="-2.5">3</tspan><tspan dy="2.5">/h)</tspan></text>
<text x="579.4" y="239.1" font-size="7.25" text-anchor="middle" fill="#3a3a3a">Time (min)</text>
<text x="382.2" y="113.5" font-size="7.2" text-anchor="middle" fill="#3a3a3a" transform="rotate(-90 382.2 113.5)">Fuzzy Control Output (m<tspan font-size="4.5" dy="-2.5">3</tspan><tspan dy="2.5">/h)</tspan></text>
<rect x="290.4" y="9.2" width="9.400000000000034" height="221.4" fill="url(#pg)"/>
<line x1="290.79999999999995" y1="9.2" x2="290.79999999999995" y2="230.6" stroke="#000" stroke-opacity="0.5" stroke-width="0.8"/>
<text x="302" y="232.7" font-size="6" text-anchor="start" fill="#3a3a3a">0</text>
<line x1="297.6" y1="193.7" x2="299.8" y2="193.7" stroke="#262626" stroke-width="0.5"/>
<text x="302" y="195.8" font-size="6" text-anchor="start" fill="#3a3a3a">10</text>
<line x1="297.6" y1="156.8" x2="299.8" y2="156.8" stroke="#262626" stroke-width="0.5"/>
<text x="302" y="158.9" font-size="6" text-anchor="start" fill="#3a3a3a">20</text>
<line x1="297.6" y1="119.9" x2="299.8" y2="119.9" stroke="#262626" stroke-width="0.5"/>
<text x="302" y="122" font-size="6" text-anchor="start" fill="#3a3a3a">30</text>
<line x1="297.6" y1="83" x2="299.8" y2="83" stroke="#262626" stroke-width="0.5"/>
<text x="302" y="85.1" font-size="6" text-anchor="start" fill="#3a3a3a">40</text>
<line x1="297.6" y1="46.1" x2="299.8" y2="46.1" stroke="#262626" stroke-width="0.5"/>
<text x="302" y="48.2" font-size="6" text-anchor="start" fill="#3a3a3a">50</text>
<text x="302" y="11.3" font-size="6" text-anchor="start" fill="#3a3a3a">60</text>
<rect x="667.6" y="9.4" width="9.299999999999955" height="221.2" fill="url(#pg)"/>
<line x1="668.0" y1="9.4" x2="668.0" y2="230.6" stroke="#000" stroke-opacity="0.5" stroke-width="0.8"/>
<line x1="674.7" y1="227.75" x2="676.9" y2="227.75" stroke="#262626" stroke-width="0.5"/>
<text x="679.1" y="229.85" font-size="6" text-anchor="start" fill="#3a3a3a">20</text>
<line x1="674.7" y1="192.07" x2="676.9" y2="192.07" stroke="#262626" stroke-width="0.5"/>
<text x="679.1" y="194.17" font-size="6" text-anchor="start" fill="#3a3a3a">25</text>
<line x1="674.7" y1="156.39" x2="676.9" y2="156.39" stroke="#262626" stroke-width="0.5"/>
<text x="679.1" y="158.49" font-size="6" text-anchor="start" fill="#3a3a3a">30</text>
<line x1="674.7" y1="120.71" x2="676.9" y2="120.71" stroke="#262626" stroke-width="0.5"/>
<text x="679.1" y="122.81" font-size="6" text-anchor="start" fill="#3a3a3a">35</text>
<line x1="674.7" y1="85.04" x2="676.9" y2="85.04" stroke="#262626" stroke-width="0.5"/>
<text x="679.1" y="87.14" font-size="6" text-anchor="start" fill="#3a3a3a">40</text>
<line x1="674.7" y1="49.36" x2="676.9" y2="49.36" stroke="#262626" stroke-width="0.5"/>
<text x="679.1" y="51.46" font-size="6" text-anchor="start" fill="#3a3a3a">45</text>
<line x1="674.7" y1="13.68" x2="676.9" y2="13.68" stroke="#262626" stroke-width="0.5"/>
<text x="679.1" y="15.78" font-size="6" text-anchor="start" fill="#3a3a3a">50</text>
<g font-family="Liberation Serif, serif" fill="#000"><text x="55.8" y="285" font-size="15.8">(a)</text><text x="80.6" y="284.8" font-size="16.0">3D error-weight relationship.</text><text x="459.7" y="285" font-size="15.7">(b)</text><text x="484.5" y="284.8" font-size="16.0">3D output trajectory.</text></g>
</svg></body></html>
